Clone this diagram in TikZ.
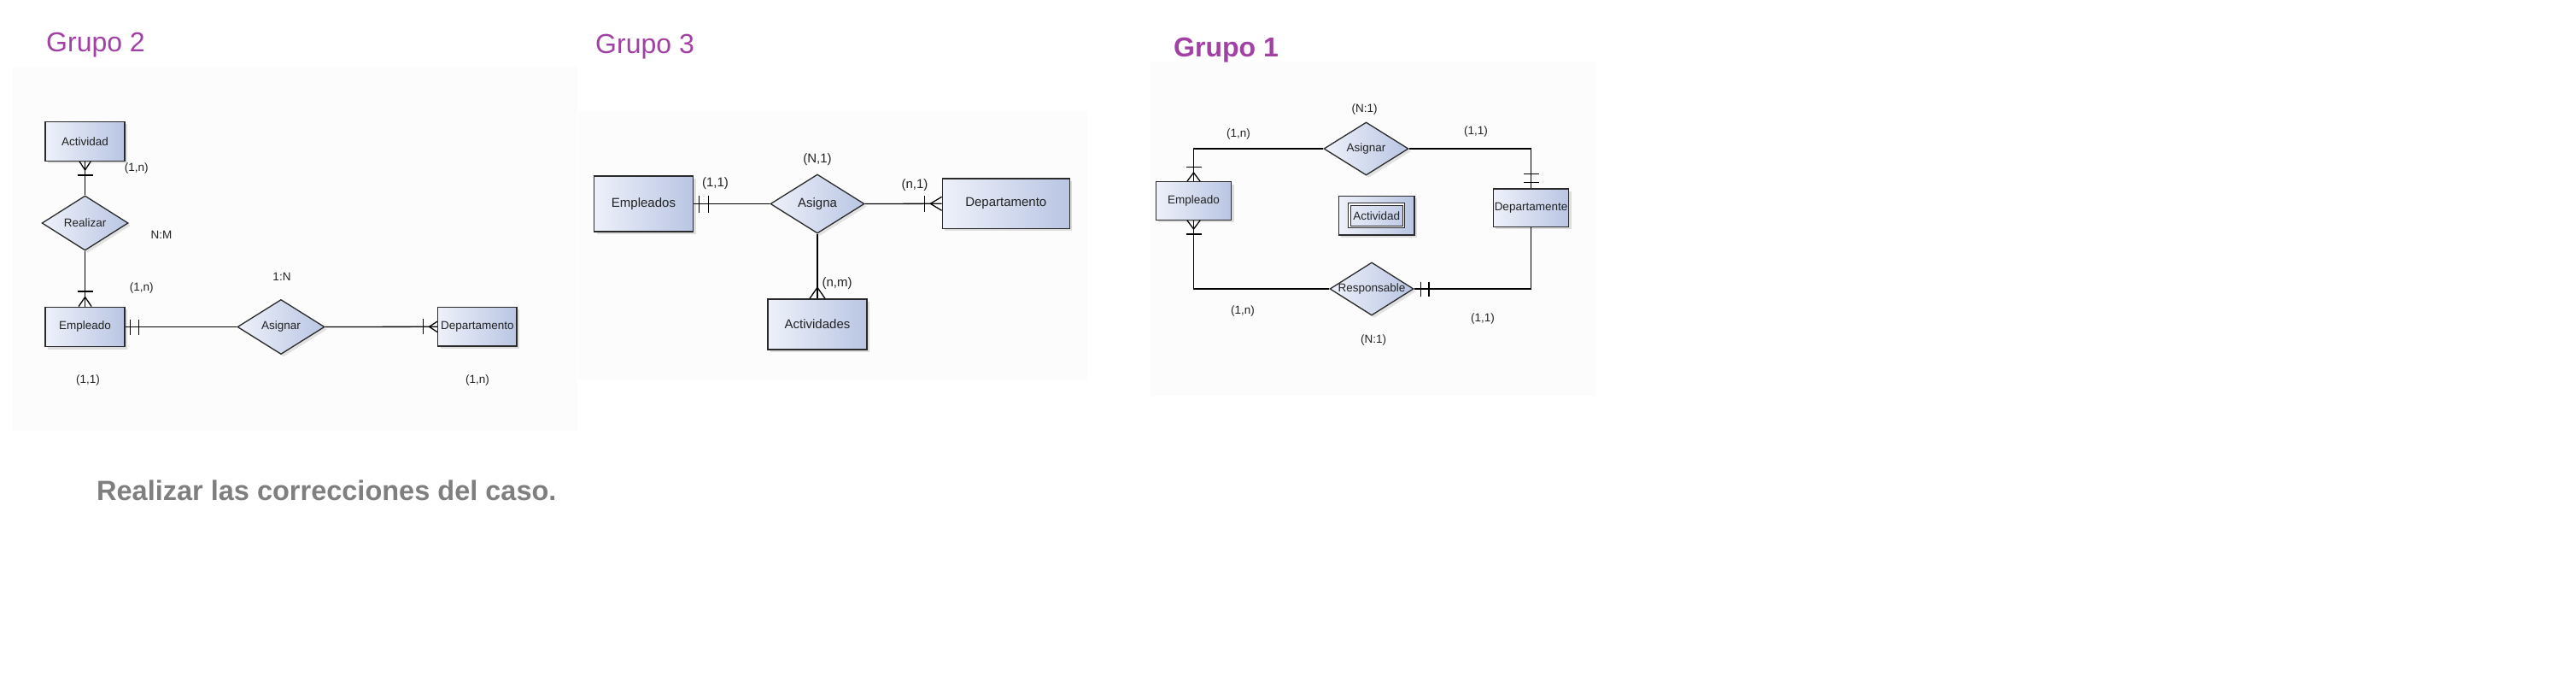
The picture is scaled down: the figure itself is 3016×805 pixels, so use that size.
\documentclass[tikz,border=0pt]{standalone}
\usepackage{fontspec}
\setmainfont{Liberation Sans}
\usetikzlibrary{shapes.geometric,shadows,calc}
\definecolor{gL}{HTML}{EEF1FA}
\definecolor{gR}{HTML}{B9C5E3}
\definecolor{bord}{HTML}{2A2A2A}
\definecolor{purp}{HTML}{A241A5}
\definecolor{notegray}{HTML}{7F7F7F}
\definecolor{panel}{HTML}{FCFCFC}
\definecolor{txt}{HTML}{222222}
\tikzset{
  ent/.style={rectangle, draw=bord, line width=1.4pt, left color=gL, right color=gR,
    inner sep=0pt, text=txt,
    drop shadow={shadow xshift=3pt, shadow yshift=-3pt, fill=black, opacity=0.12}},
  rel/.style={diamond, draw=bord, line width=1.3pt, left color=gL, right color=gR,
    inner sep=0pt, text=txt,
    drop shadow={shadow xshift=3pt, shadow yshift=-3pt, fill=black, opacity=0.1}},
  conn/.style={line width=1.3pt, black},
  card/.style={inner sep=0pt, text=txt},
  fs/.style={font=\fontsize{13.5}{16}\selectfont},
  fl/.style={font=\fontsize{15}{18}\selectfont},
  grtitle/.style={anchor=base west, inner sep=0pt, text=purp, font=\fontsize{32}{38}\selectfont},
}
\begin{document}
\begin{tikzpicture}[x=1pt, y=-1pt]
\useasboundingbox (0,0) rectangle (3016,805);
\fill[white] (0,0) rectangle (3016,805);
% faint panels
\fill[panel] (15,78) rectangle (676,504);
\fill[panel] (677,130) rectangle (1273,445);
\fill[panel] (1347,72) rectangle (1869,463);

% ================= Grupo 2 =================
\node[grtitle] (t2) at (54,60.7) {Grupo 2};
\node[ent, fs, minimum width=93, minimum height=46] (act2) at (99.6,165.3) {Actividad};
\node[rel, fs, minimum width=101, minimum height=64] (real2) at (99.6,261) {\makebox[0pt]{Realizar}};
\node[ent, fs, minimum width=93, minimum height=46.5] (emp2) at (99.6,382.5) {Empleado};
\node[rel, fs, minimum width=102, minimum height=64] (asig2) at (329,382.5) {\makebox[0pt]{Asignar}};
\node[ent, fs, minimum width=92.3, minimum height=45.7] (dep2) at (558.8,382.3) {\makebox[0pt]{Departamento}};

\draw[conn] (act2.south) -- (real2.north);
\draw[conn] (real2.south) -- (emp2.north);
\draw[conn] (emp2.east) -- (asig2.west);
\draw[conn] (asig2.east) -- (dep2.west);
% marks
\draw[conn] ($(act2.south)+(-6.5,0)$) -- ($(act2.south)+(0,10)$) -- ($(act2.south)+(6.5,0)$);
\draw[conn] ($(act2.south)+(-9,16)$) -- ($(act2.south)+(9,16)$);
\draw[conn] ($(emp2.north)+(-7.5,0)$) -- ($(emp2.north)+(0,-11)$) -- ($(emp2.north)+(7.5,0)$);
\draw[conn] ($(emp2.north)+(-9,-17.5)$) -- ($(emp2.north)+(9,-17.5)$);
\draw[conn] ($(emp2.east)+(5.7,-9)$) -- ($(emp2.east)+(5.7,9)$);
\draw[conn] ($(emp2.east)+(15.7,-9)$) -- ($(emp2.east)+(15.7,9)$);
\draw[conn] ($(dep2.west)+(0,-6.2)$) -- ($(dep2.west)+(-9.4,0)$) -- ($(dep2.west)+(0,6.2)$);
\draw[conn] ($(dep2.west)+(-16.7,-9)$) -- ($(dep2.west)+(-16.7,9)$);

\node[card, fs] (c21) at (159.7,196.7) {(1,n)};
\node[card, fs] (c22) at (189,275) {N:M};
\node[card, fs] (c23) at (165.8,337.5) {(1,n)};
\node[card, fs] (c24) at (330,324) {1:N};
\node[card, fs] (c25) at (103,445) {(1,1)};
\node[card, fs] (c26) at (559,445) {(1,n)};

% ================= Grupo 3 =================
\node[grtitle] (t3) at (697,62.5) {Grupo 3};
\node[ent, fl, minimum width=116, minimum height=65] (emp3) at (753.5,238.5) {Empleados};
\node[rel, fl, minimum width=110, minimum height=69] (asg3) at (957,238.5) {\makebox[0pt]{Asigna}};
\node[ent, fl, minimum width=149, minimum height=58.3] (dep3) at (1177.8,238.3) {Departamento};
\node[ent, fl, minimum width=116, minimum height=59] (act3) at (957,379.5) {Actividades};

\draw[conn] (emp3.east) -- (asg3.west);
\draw[conn] (asg3.east) -- (dep3.west);
\draw[conn] (asg3.south) -- (act3.north);
\draw[conn] ($(emp3.east)+(6.5,-10)$) -- ($(emp3.east)+(6.5,10)$);
\draw[conn] ($(emp3.east)+(17.5,-10)$) -- ($(emp3.east)+(17.5,10)$);
\draw[conn] ($(dep3.west)+(0,-8)$) -- ($(dep3.west)+(-13.3,0)$) -- ($(dep3.west)+(0,8)$);
\draw[conn] ($(dep3.west)+(-20,-9.5)$) -- ($(dep3.west)+(-20,9.5)$);
\draw[conn] ($(act3.north)+(-9,0)$) -- ($(act3.north)+(0,-13)$) -- ($(act3.north)+(9,0)$);

\node[card, fl] (c31) at (957,186.5) {(N,1)};
\node[card, fl] (c32) at (837.5,215) {(1,1)};
\node[card, fl] (c33) at (1071,217) {(n,1)};
\node[card, fl] (c34) at (980,332) {(n,m)};

% ================= Grupo 1 =================
\node[grtitle, font=\bfseries\fontsize{32}{38}\selectfont] (t1) at (1374,66.7) {Grupo 1};
\node[ent, fs, minimum width=88.4, minimum height=44.6] (emp1) at (1397.5,235) {Empleado};
\node[rel, fs, minimum width=99, minimum height=62] (asg1) at (1599.5,174) {\makebox[0pt]{Asignar}};
\node[ent, fs, minimum width=88.4, minimum height=44.3] (dep1) at (1792.5,243.2) {\makebox[0pt]{Departamente}};
\node[rel, fs, minimum width=98, minimum height=62] (resp1) at (1606,338) {\makebox[0pt]{Responsable}};
\node[ent, minimum width=88.7, minimum height=45.7] (actw) at (1611.7,252.2) {};
\node[draw=bord, line width=1pt, double=white, double distance=1.2pt, inner sep=0pt,
      minimum width=63.3, minimum height=26.5, text=txt, fs] (actwin) at (actw.center) {Actividad};

\draw[conn] (asg1.west) -| (emp1.north);
\draw[conn] (asg1.east) -| (dep1.north);
\draw[conn] (emp1.south) |- (resp1.west);
\draw[conn] (resp1.east) -| (dep1.south);
\draw[conn] ($(emp1.north)+(-7.5,0)$) -- ($(emp1.north)+(0,-10)$) -- ($(emp1.north)+(7.5,0)$);
\draw[conn] ($(emp1.north)+(-9,-16.7)$) -- ($(emp1.north)+(9,-16.7)$);
\draw[conn] ($(emp1.south)+(-7.5,0)$) -- ($(emp1.south)+(0,10)$) -- ($(emp1.south)+(7.5,0)$);
\draw[conn] ($(emp1.south)+(-9,16)$) -- ($(emp1.south)+(9,16)$);
\draw[conn] ($(dep1.north)+(-9,-16.7)$) -- ($(dep1.north)+(9,-16.7)$);
\draw[conn] ($(dep1.north)+(-9,-7)$) -- ($(dep1.north)+(9,-7)$);
\draw[conn] ($(resp1.east)+(7.7,-8.5)$) -- ($(resp1.east)+(7.7,8.5)$);
\draw[conn] ($(resp1.east)+(17.3,-8.5)$) -- ($(resp1.east)+(17.3,8.5)$);

\node[card, fs] (c11) at (1597.5,128.5) {(N:1)};
\node[card, fs] (c12) at (1450,157) {(1,n)};
\node[card, fs] (c13) at (1728,154.5) {(1,1)};
\node[card, fs] (c14) at (1455,364) {(1,n)};
\node[card, fs] (c15) at (1736,373) {(1,1)};
\node[card, fs] (c16) at (1608,398) {(N:1)};

% ================= note =================
\node[anchor=base west, inner sep=0pt, text=notegray, font=\bfseries\fontsize{32.5}{39}\selectfont] (note) at (113,585) {Realizar las correcciones del caso.};
\end{tikzpicture}
\end{document}
